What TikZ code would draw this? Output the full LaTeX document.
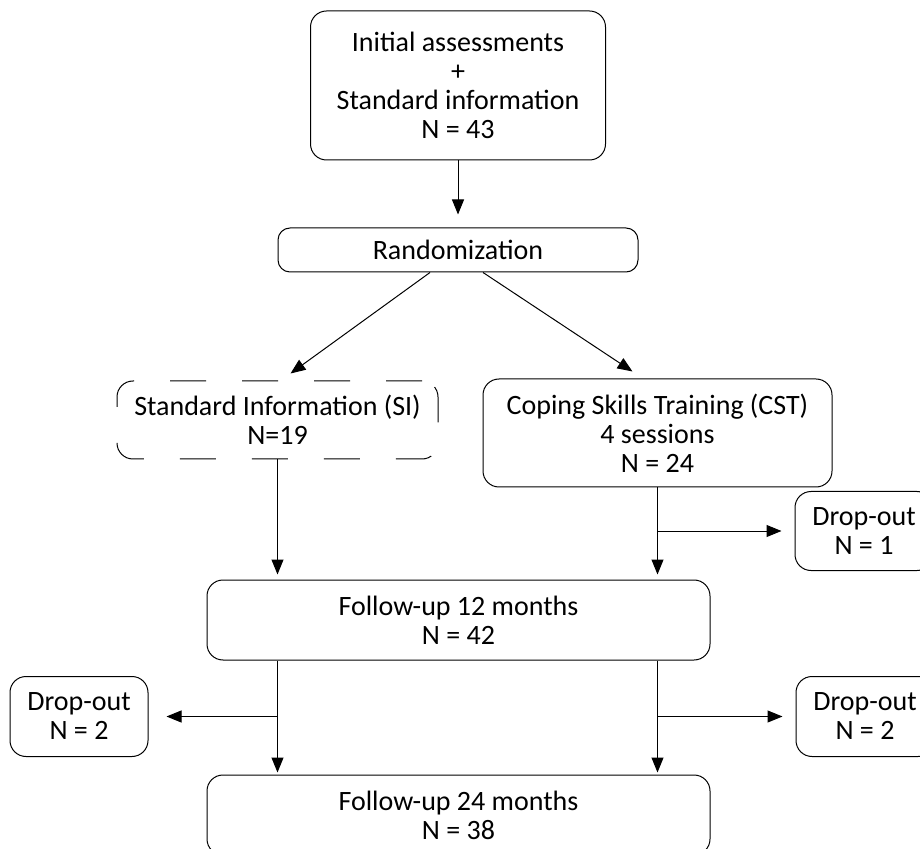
\documentclass[tikz,border=0pt]{standalone}
\usepackage{fontspec}
\setmainfont{Carlito}
\usepackage{tikz}
\usetikzlibrary{calc, arrows.meta}

\tikzset{
  box/.style={draw, rounded corners=8pt, align=center, inner sep=0pt,
    font=\fontsize{14}{14.5}\selectfont},
  sibox/.style={box, dash pattern=on 18pt off 18pt},
}

\begin{document}
\begin{tikzpicture}[x=0.5pt, y=-0.5pt, line width=0.5pt,
    >={Triangle[length=7.5pt,width=6pt]}]
    \path[use as bounding box, clip] (0,0) rectangle (920,849);
    \node[box, minimum width=147.5pt, minimum height=74.5pt] (init) at (458,85.5)
      {Initial assessments\\+\\Standard information\\N = 43};
    \node[box, rounded corners=6pt, minimum width=180pt, minimum height=22pt] (rand) at (458,250)
      {Randomization};
    \node[sibox, minimum width=160.5pt, minimum height=39pt] (si) at (277.5,420)
      {Standard Information (SI)\\N=19};
    \node[box, minimum width=174.5pt, minimum height=54pt] (cst) at (657.5,433)
      {Coping Skills Training (CST)\\4 sessions\\N = 24};
    \node[box, minimum width=69pt, minimum height=39.5pt] (drop1) at (864,531)
      {Drop-out\\N = 1};
    \node[box, minimum width=251.5pt, minimum height=40pt] (fu12) at (458.5,620)
      {Follow-up 12 months\\N = 42};
    \node[box, minimum width=69pt, minimum height=40pt] (dropl) at (79,716.5)
      {Drop-out\\N = 2};
    \node[box, minimum width=69pt, minimum height=40pt] (dropr) at (865,716.5)
      {Drop-out\\N = 2};
    \node[box, minimum width=251.5pt, minimum height=40pt] (fu24) at (458.5,815)
      {Follow-up 24 months\\N = 38};
    % from init to rand
    \draw[->, shorten >=6.5pt] (init) -- (rand);
    % the two arms
    \draw[->] ($(rand.south)+(-28,0)$) -- ($(si.north)+(13,-7)$);
    \draw[->] ($(rand.south)+(25,0)$) -- ($(cst.north)+(-25,-7)$);
    % vertical lines to 12 months
    \draw[->, shorten >=2.5pt] (si) -- (si |- fu12.north);
    \draw[->, shorten >=2.5pt] (cst) -- (cst |- fu12.north);
    % vertical lines to 24 months
    \draw[->, shorten >=1pt] (si |- fu12.south) -- (si |- fu24.north);
    \draw[->, shorten >=1pt] (cst |- fu12.south) -- (cst |- fu24.north);
    % horizontal lines to drop-outs
    \coordinate (b1) at (cst.south |- drop1.west);
    \coordinate (bl) at (si.south |- dropl.east);
    \coordinate (br) at (cst.south |- dropr.west);
    \draw[->, shorten >=6.5pt] (b1) -- (drop1);
    \draw[->, shorten >=9pt] (bl) -- (dropl);
    \draw[->, shorten >=6.5pt] (br) -- (dropr);
\end{tikzpicture}
\end{document}
